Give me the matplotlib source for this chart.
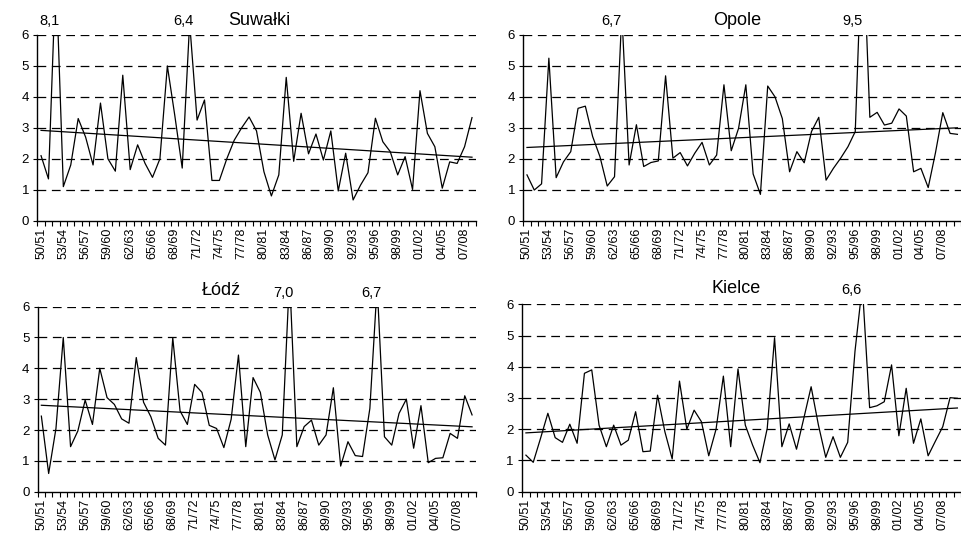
import matplotlib
matplotlib.use("Agg")
import matplotlib.pyplot as plt
import numpy as np

plt.rcParams["font.family"] = ["Liberation Sans", "DejaVu Sans"]

# season labels 50/51 ... 09/10
seasons = [f"{y % 100:02d}/{(y + 1) % 100:02d}" for y in range(1950, 2010)]

suwalki = [2.1, 1.35, 8.1, 1.1, 1.8, 3.3, 2.7, 1.8, 3.8, 2.0,
           1.6, 4.7, 1.65, 2.45, 1.85, 1.4, 2.0, 5.0, 3.4, 1.7,
           6.4, 3.25, 3.9, 1.3, 1.3, 2.0, 2.6, 3.0, 3.35, 2.9,
           1.58, 0.8, 1.48, 4.63, 1.92, 3.47, 2.16, 2.8, 1.96, 2.9,
           0.96, 2.18, 0.67, 1.15, 1.55, 3.31, 2.55, 2.23, 1.48, 2.07,
           1.01, 4.2, 2.82, 2.39, 1.05, 1.9, 1.85, 2.39, 3.33]

opole = [1.48, 0.99, 1.19, 5.25, 1.39, 1.9, 2.23, 3.63, 3.7, 2.72,
         2.07, 1.12, 1.42, 6.7, 1.8, 3.1, 1.75, 1.88, 1.93, 4.68,
         2.02, 2.2, 1.77, 2.18, 2.53, 1.8, 2.12, 4.39, 2.26, 2.98,
         4.39, 1.51, 0.85, 4.35, 4.0, 3.3, 1.58, 2.23, 1.87, 2.88,
         3.34, 1.31, 1.69, 2.02, 2.39, 2.88, 9.5, 3.34, 3.5, 3.09,
         3.15, 3.61, 3.38, 1.58, 1.69, 1.07, 2.2, 3.49, 2.82, 2.79]

lodz = [2.45, 0.59, 2.05, 5.0, 1.46, 1.97, 2.97, 2.18, 4.0, 3.05,
        2.83, 2.36, 2.22, 4.35, 2.9, 2.43, 1.73, 1.51, 4.99, 2.62,
        2.18, 3.48, 3.22, 2.15, 2.05, 1.43, 2.35, 4.43, 1.46, 3.7,
        3.22, 1.84, 1.03, 1.84, 7.0, 1.46, 2.11, 2.32, 1.51, 1.84,
        3.37, 0.83, 1.62, 1.17, 1.14, 2.7, 6.7, 1.78, 1.51, 2.54,
        3.0, 1.41, 2.79, 0.94, 1.08, 1.1, 1.89, 1.73, 3.11, 2.49]

kielce = [1.17, 0.94, 1.71, 2.51, 1.73, 1.58, 2.16, 1.55, 3.79, 3.9,
          2.13, 1.44, 2.13, 1.49, 1.65, 2.56, 1.28, 1.3, 3.09, 1.92,
          1.05, 3.54, 2.0, 2.61, 2.24, 1.15, 2.0, 3.7, 1.44, 3.93,
          2.13, 1.49, 0.93, 2.03, 4.93, 1.44, 2.17, 1.36, 2.35, 3.36,
          2.13, 1.1, 1.76, 1.1, 1.58, 4.5, 6.6, 2.69, 2.75, 2.88,
          4.06, 1.79, 3.31, 1.55, 2.33, 1.15, 1.62, 2.08, 3.01, 2.99]

# station name, series, axes rect, title position (axes fraction), label shift
panels = [
    ("Suwałki", suwalki, [0.0388, 0.5898, 0.4557, 0.3452], (0.507, 1.077), -0.8),
    ("Opole", opole, [0.5440, 0.5898, 0.4550, 0.3452], (0.488, 1.08), -1.4),
    ("Łódź", lodz, [0.0392, 0.0861, 0.4553, 0.3439], (0.42, 1.09), -0.8),
    ("Kielce", kielce, [0.5429, 0.0861, 0.4561, 0.3483], (0.488, 1.085), -1.5),
]

fig = plt.figure(figsize=(9.62, 5.38), dpi=100)

for name, vals, rect, tpos, shift in panels:
    ax = fig.add_axes(rect)
    vals = np.array(vals)
    n = len(vals)
    x = np.arange(n)

    ax.plot(x, vals, color="black", lw=0.9, zorder=3)

    # linear trend
    a, b = np.polyfit(x, vals, 1)
    ax.plot([0, n - 1], [b, a * (n - 1) + b], color="black", lw=0.9, zorder=3)

    ax.set_xlim(-0.5, n - 0.5)
    ax.set_ylim(0, 6)
    ax.set_yticks(range(7))
    for yv in range(1, 7):
        ax.axhline(yv, color="black", lw=0.9, dashes=(7, 4.5), zorder=1)

    ax.set_xticks(x[::3])
    ax.set_xticklabels(seasons[:n:3], rotation=90, fontsize=9)
    ax.set_xticks(np.arange(n + 1) - 0.5, minor=True)
    ax.tick_params(axis="x", which="major", length=0, pad=5)
    ax.tick_params(axis="x", which="minor", length=3.5, width=0.8)
    ax.tick_params(axis="y", length=3, width=0.8, labelsize=9.5, pad=3)

    for side in ("top", "right"):
        ax.spines[side].set_visible(False)
    for side in ("left", "bottom"):
        ax.spines[side].set_linewidth(1.0)

    ax.text(tpos[0], tpos[1], name, transform=ax.transAxes, ha="center",
            va="center", fontsize=13)

    # values above the cut-off
    for i, v in enumerate(vals):
        if v > 6:
            ax.text(i + shift, 6.45, f"{v:.1f}".replace(".", ","),
                    ha="center", va="center", fontsize=10.5)

fig.savefig("out.png", dpi=100)
